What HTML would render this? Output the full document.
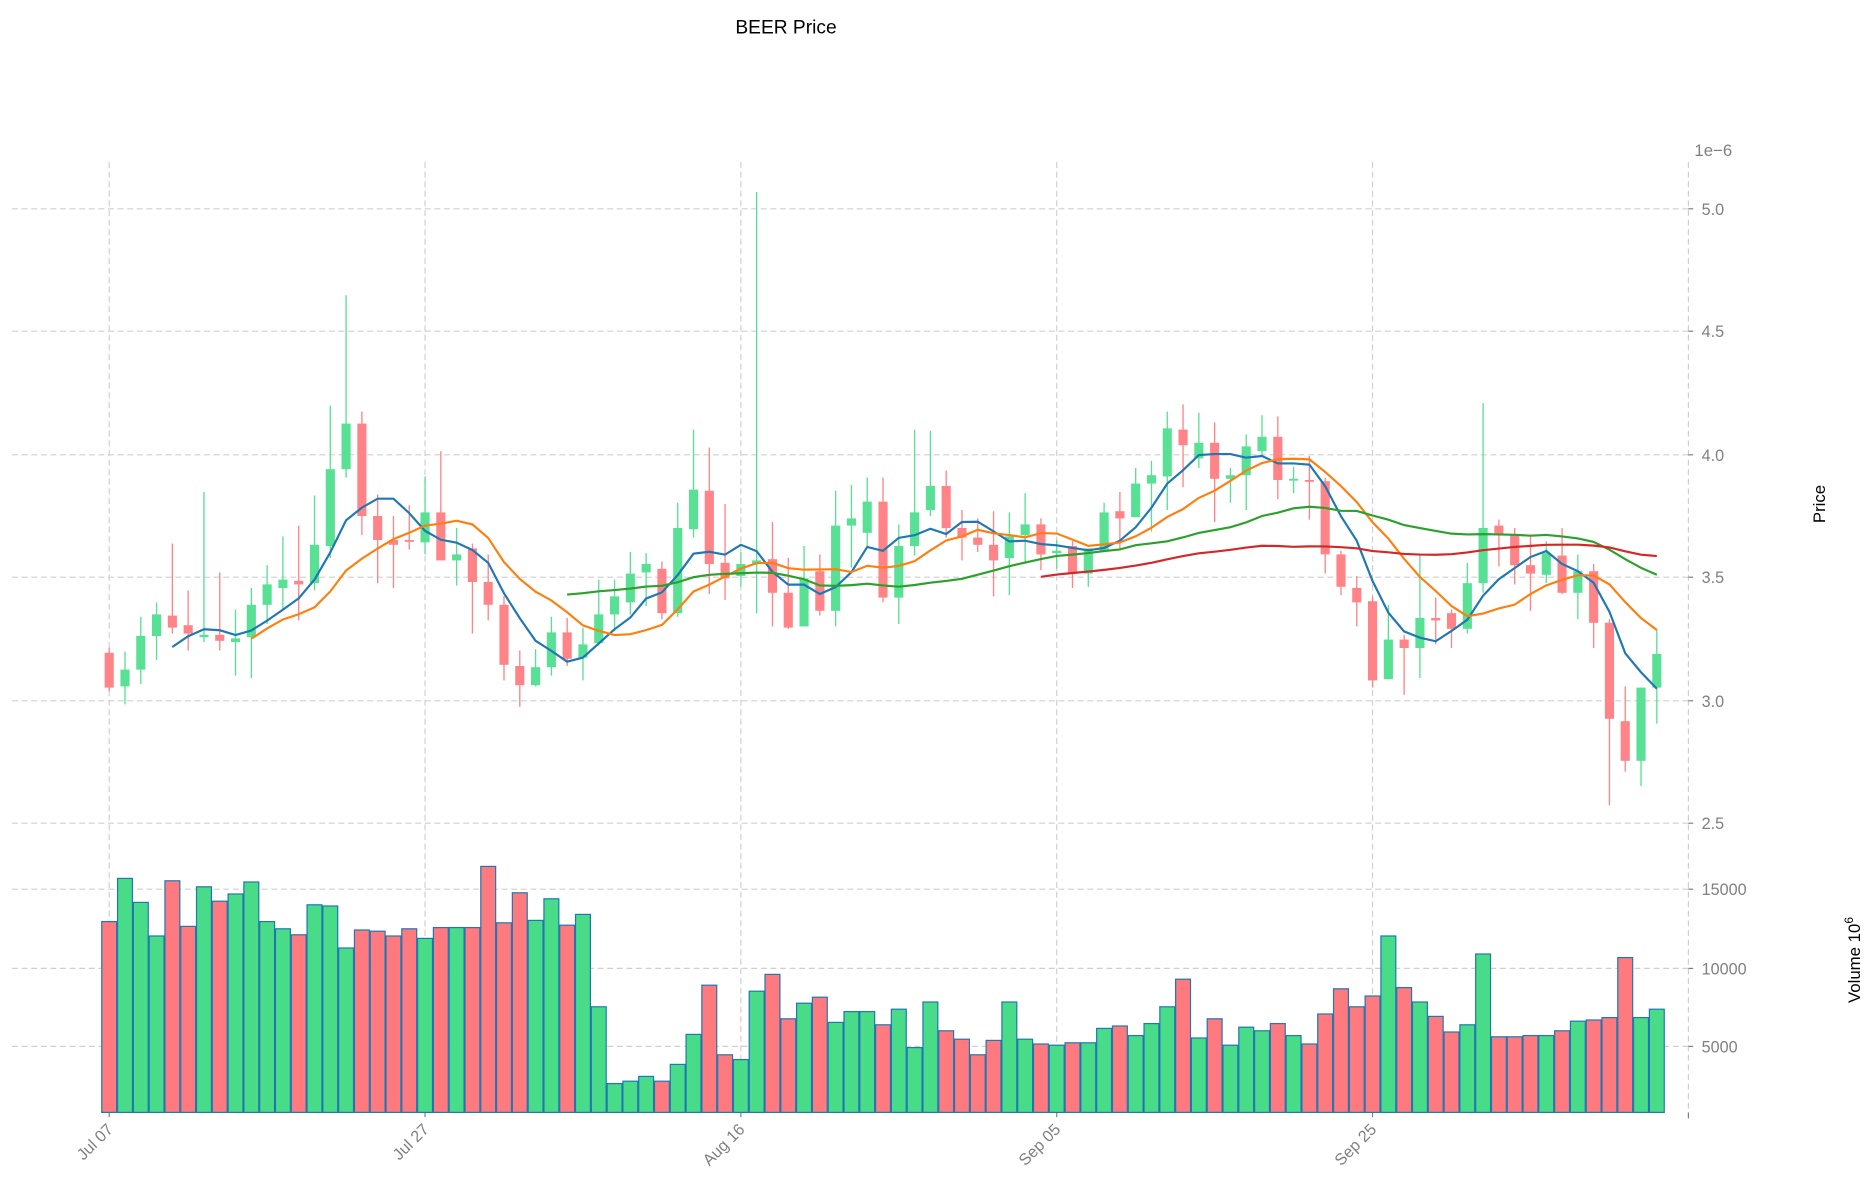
<!DOCTYPE html>
<html><head><meta charset="utf-8"><style>
html,body{margin:0;padding:0;background:#fff;}
svg{display:block;font-family:"Liberation Sans",sans-serif;}
</style></head><body>
<svg id="s" width="1872" height="1202" viewBox="0 0 1560 1001.67" xmlns="http://www.w3.org/2000/svg">
<text x="655" y="28" font-size="16" text-anchor="middle" fill="#000">BEER Price</text>
<text x="1412" y="130" font-size="14" fill="#808080">1e−6</text>
<text transform="translate(1521,420) rotate(-90)" font-size="14" text-anchor="middle" fill="#000">Price</text>
<text transform="translate(1550,800) rotate(-90)" font-size="14" text-anchor="middle" fill="#000">Volume  10<tspan dy="-6" font-size="10">6</tspan></text>
<g id="g"></g>
</svg>
<script>
var C=[[544,573,540,576,'r'],[572,558,543,587,'g'],[558,530,514,570,'g'],[530,512,502,550,'g'],[513,523,453,528,'r'],[521,528,492,542,'r'],[531,529,410,535,'g'],[529,534,477,542,'r'],[535,532,508,563,'g'],[531,504,490,565,'g'],[504,487,471,520,'g'],[490,483,447,508,'g'],[484,487,438,517,'r'],[486,454,413,492,'g'],[455,391,338,465,'g'],[391,353,246,398,'g'],[353,430,343,446,'r'],[430,450,412,486,'r'],[450,454,430,490,'r'],[450,451,421,458,'r'],[452,427,397,462,'g'],[427,467,376,467,'r'],[467,462,440,488,'g'],[457,485,453,528,'r'],[485,504,462,517,'r'],[504,554,497,567,'r'],[555,571,542,589,'r'],[571,556,541,572,'g'],[556,527,514,563,'g'],[527,549,515,555,'r'],[548,537,523,567,'g'],[536,512,483,538,'g'],[512,497,483,526,'g'],[502,478,460,512,'g'],[477,470,461,505,'g'],[474,511,468,516,'r'],[511,440,419,514,'g'],[441,408,358,448,'g'],[409,470,373,495,'r'],[469,482,420,500,'r'],[480,470,460,489,'g'],[470,467,160,511,'g'],[466,494,435,522,'r'],[494,523,465,524,'r'],[522,482,455,522,'g'],[476,509,462,513,'r'],[509,438,409,522,'g'],[438,432,404,473,'g'],[444,418,398,455,'g'],[418,498,398,502,'r'],[498,455,437,520,'g'],[455,427,358,463,'g'],[425,405,359,430,'g'],[405,440,392,448,'r'],[440,448,425,467,'r'],[448,454,432,460,'r'],[454,467,426,497,'r'],[465,447,427,496,'g'],[446,437,411,468,'g'],[437,462,432,475,'r'],[461,459,450,474,'g'],[455,478,451,490,'r'],[478,457,457,489,'g'],[459,427,419,459,'g'],[426,432,410,458,'r'],[431,403,390,431,'g'],[403,396,384,443,'g'],[397,357,343,425,'g'],[358,371,337,406,'r'],[382,369,344,390,'g'],[369,399,352,435,'r'],[399,396,390,419,'g'],[396,372,362,425,'g'],[376,364,346,380,'g'],[364,400,347,416,'r'],[400,399,389,411,'g'],[400,401,380,433,'r'],[401,462,398,478,'r'],[462,489,459,496,'r'],[490,502,480,522,'r'],[501,567,497,573,'r'],[566,533,504,566,'g'],[533,540,529,579,'r'],[540,515,462,565,'g'],[515,517,498,537,'r'],[511,524,508,540,'r'],[524,486,469,528,'g'],[486,440,336,494,'g'],[438,446,433,472,'r'],[446,471,440,487,'r'],[471,478,447,509,'r'],[479,461,451,486,'g'],[463,494,440,495,'r'],[494,476,462,516,'g'],[476,519,470,540,'r'],[519,599,516,671,'r'],[601,634,572,643,'r'],[634,573,573,655,'g'],[573,545,524,603,'g']];
var V=[768,732,752,780,734,772,739,751,745,735,768,774,779,754,755,790,775,776,780,774,782,773,773,773,722,769,744,767,749,771,762,839,903,901,897,901,887,862,821,879,883,826,812,849,836,831,852,843,843,854,841,873,835,859,866,879,867,835,866,870,871,869,869,857,855,863,853,839,816,865,849,871,856,859,853,863,870,845,824,839,830,780,823,835,847,860,854,795,864,864,863,863,859,851,850,848,798,848,841];
var h='';function X(i){return 91+i*13.16;}
var dash='stroke="#d0d0d0" stroke-width="1" stroke-dasharray="5,3"';
[174,276,379,481,584,686,741,807,872].forEach(function(y){h+='<line x1="10" x2="1407" y1="'+y+'" y2="'+y+'" '+dash+'/>';});
[0,20,40,60,80].forEach(function(i){h+='<line x1="'+X(i)+'" x2="'+X(i)+'" y1="135" y2="927" '+dash+'/>';});
h+='<line x1="1407" x2="1407" y1="135" y2="927" '+dash+'/>';
var pl=[['5.0',174],['4.5',276],['4.0',379],['3.5',481],['3.0',584],['2.5',686],['15000',741],['10000',807],['5000',872]];
pl.forEach(function(p){h+='<line x1="1407" x2="1411" y1="'+p[1]+'" y2="'+p[1]+'" stroke="#808080"/><text x="1418" y="'+(p[1]+5)+'" font-size="13.5" fill="#808080">'+p[0]+'</text>';});
h+='<line x1="1407" x2="1407" y1="927" y2="932" stroke="#808080"/>';
['Jul 07','Jul 27','Aug 16','Sep 05','Sep 25'].forEach(function(t,k){var x=X(k*20);h+='<line x1="'+x+'" x2="'+x+'" y1="927" y2="931" stroke="#808080"/><text transform="translate('+(x+4)+',942) rotate(-45)" font-size="13.5" text-anchor="end" fill="#808080">'+t+'</text>';});
V.forEach(function(y,i){var c=C[i][4]=='g'?'#48dc88':'#ff7a7e';h+='<rect x="'+(X(i)-6.2)+'" y="'+y+'" width="12.4" height="'+(927-y)+'" fill="'+c+'" stroke="#1f77b4" stroke-width="1"/>';});
C.forEach(function(c,i){var col=c[4]=='g'?'#58e094':'#ff8387';var x=X(i);var t=Math.min(c[0],c[1]),b=Math.max(c[0],c[1]);if(b-t<1.5){b=t+1.5;}
h+='<line x1="'+x+'" x2="'+x+'" y1="'+c[2]+'" y2="'+c[3]+'" stroke="'+col+'" stroke-width="1.1"/>';
h+='<rect x="'+(x-3.8)+'" y="'+t+'" width="7.6" height="'+(b-t)+'" fill="'+col+'"/>';});
function ma(n,col){var pts=[];for(var i=n-1;i<C.length;i++){var s=0;for(var j=i-n+1;j<=i;j++)s+=C[j][1];pts.push(X(i).toFixed(1)+','+(s/n).toFixed(1));}
h+='<polyline points="'+pts.join(' ')+'" fill="none" stroke="'+col+'" stroke-width="1.8"/>';}
ma(5,'#1f77b4');ma(10,'#ff7f0e');ma(30,'#2ca02c');ma(60,'#d62728');
document.getElementById('g').innerHTML=h;
</script>
</body></html>
